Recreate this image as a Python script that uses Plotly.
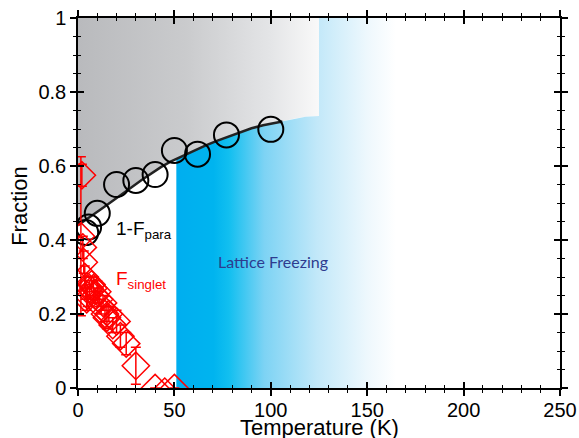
import numpy as np
import plotly.graph_objects as go

# ---------------- data ----------------
# 1 - F_para (open black circles)
para_T = [4.0, 5.5, 10.0, 20.0, 30.0, 40.0, 50.0, 62.0, 77.0, 100.0]
para_F = [0.42, 0.435, 0.472, 0.55, 0.561, 0.577, 0.642, 0.632, 0.684, 0.699]

# guide-to-the-eye curve through 1 - F_para
fit_T = [0, 3, 8, 13, 18, 23, 28, 33, 38, 43, 48, 54, 60, 66, 72, 78, 84, 90, 96, 101, 106]
fit_F = [0.44, 0.45, 0.469, 0.487, 0.505, 0.524, 0.543, 0.562, 0.58, 0.597, 0.612,
         0.627, 0.641, 0.655, 0.668, 0.68, 0.692, 0.702, 0.71, 0.715, 0.72]

# F_singlet (open red diamonds with error bars)
singlet_T = [1.5, 2.0, 2.5, 3.0, 3.5, 4.0, 4.5, 5.0, 6.0, 7.0, 8.0, 9.0, 10.0, 11.0,
             12.0, 13.0, 14.0, 15.0, 16.0, 18.0, 20.0, 22.0, 25.0, 30.0, 40.0, 45.0, 50.0]
singlet_F = [0.41, 0.575, 0.38, 0.34, 0.30, 0.27, 0.24, 0.25, 0.27, 0.28, 0.27, 0.25, 0.26,
             0.24, 0.22, 0.23, 0.20, 0.19, 0.20, 0.17, 0.18, 0.14, 0.12, 0.06, 0.0, -0.01, 0.0]
singlet_err = [0.215, 0.03, 0.03, 0.03, 0.03, 0.03, 0.03, 0.03, 0.02, 0.02, 0.03, 0.02, 0.03,
               0.02, 0.02, 0.02, 0.02, 0.03, 0.02, 0.02, 0.03, 0.03, 0.03, 0.05, 0.0, 0.0, 0.0]

# shaded regions
shelf_T = [112, 118, 125]          # edge continuing the curve up to the end of the grey band
shelf_F = [0.728, 0.733, 0.735]
GREY_END_T = 125
FREEZE_START_T = 51
FREEZE_END_T = 165

x_ticks = [0, 50, 100, 150, 200, 250]
y_ticks = [0, 0.2, 0.4, 0.6, 0.8, 1]
y_tick_text = ["0", "0.2", "0.4", "0.6", "0.8", "1"]

# ---------------- build region outlines ----------------
bx = list(fit_T) + shelf_T
by = list(fit_F) + shelf_F

grey_x = [0, GREY_END_T] + bx[::-1] + [0]
grey_y = [1, 1] + by[::-1] + [1]

f_at_start = float(np.interp(FREEZE_START_T, bx, by))
sel = [i for i, t in enumerate(bx) if t > FREEZE_START_T]
cyan_x = [FREEZE_START_T, FREEZE_START_T] + [bx[i] for i in sel] + [GREY_END_T, FREEZE_END_T, FREEZE_END_T]
cyan_y = [0, f_at_start] + [by[i] for i in sel] + [1, 1, 0]

FONT = "Liberation Sans, Arial, Helvetica, sans-serif"

fig = go.Figure()

fig.add_trace(go.Scatter(
    x=grey_x, y=grey_y, mode="lines", fill="toself", line=dict(width=0),
    fillgradient=dict(type="horizontal", start=0, stop=GREY_END_T,
                      colorscale=[[0, "#b9babd"], [0.45, "#cacbcd"], [0.8, "#e4e5e7"], [1, "#f9f9f9"]]),
    hoverinfo="skip", showlegend=False))

fig.add_trace(go.Scatter(
    x=cyan_x, y=cyan_y, mode="lines", fill="toself", line=dict(width=0),
    fillgradient=dict(type="horizontal", start=FREEZE_START_T, stop=FREEZE_END_T,
                      colorscale=[[0, "#00aeef"], [0.17, "#00b4ef"], [0.24, "#12bff0"],
                                  [0.4, "#7dd3f4"], [0.64, "#c2e8f9"], [0.87, "#eef8fd"],
                                  [1, "#ffffff"]]),
    hoverinfo="skip", showlegend=False))

fig.add_trace(go.Scatter(
    x=fit_T, y=fit_F, mode="lines", line=dict(color="#222222", width=2.5),
    hoverinfo="skip", showlegend=False))

fig.add_trace(go.Scatter(
    x=para_T, y=para_F, mode="markers",
    marker=dict(symbol="circle-open", size=25, color="black", line=dict(width=2, color="black")),
    name="1-F_para", showlegend=False))

fig.add_trace(go.Scatter(
    x=singlet_T, y=singlet_F, mode="markers",
    marker=dict(symbol="diamond-open", size=21, color="#ff0000", line=dict(width=1.5, color="#ff0000")),
    error_y=dict(type="data", array=singlet_err, color="#ff0000", thickness=1.5, width=5),
    name="F_singlet", showlegend=False))

# dummy trace so the overlay axes (inner halves of the crossing ticks) exist
fig.add_trace(go.Scatter(x=[None], y=[None], xaxis="x2", yaxis="y2",
                         hoverinfo="skip", showlegend=False))

axis_common = dict(showgrid=False, zeroline=False, tickcolor="black", tickwidth=1.5, automargin=False)

fig.update_layout(
    width=579, height=438,
    margin=dict(l=78, r=19, t=18, b=50),
    paper_bgcolor="white", plot_bgcolor="white",
    font=dict(family=FONT, color="black", size=20),
    xaxis=dict(range=[0, 250], tickvals=x_ticks, ticks="outside", ticklen=6, mirror="ticks",
               showline=True, linecolor="black", linewidth=1.5, ticklabelstandoff=-3,
               minor=dict(dtick=10, ticks="outside", ticklen=3, tickwidth=1, tickcolor="black"),
               tickfont=dict(size=20), **axis_common),
    yaxis=dict(range=[0, 1], tickvals=y_ticks, ticktext=y_tick_text, ticks="outside", ticklen=6,
               mirror="ticks", showline=True, linecolor="black", linewidth=1.5,
               minor=dict(dtick=0.05, ticks="outside", ticklen=3, tickwidth=1, tickcolor="black"),
               tickfont=dict(size=20), **axis_common),
    xaxis2=dict(range=[0, 250], overlaying="x", anchor="y2", side="bottom", tickvals=x_ticks,
                ticks="inside", ticklen=6, mirror="ticks", showline=False, showticklabels=False,
                minor=dict(dtick=10, ticks="inside", ticklen=3, tickwidth=1, tickcolor="black"),
                **axis_common),
    yaxis2=dict(range=[0, 1], overlaying="y", anchor="x2", side="left", tickvals=y_ticks,
                ticks="inside", ticklen=6, mirror="ticks", showline=False, showticklabels=False,
                minor=dict(dtick=0.05, ticks="inside", ticklen=3, tickwidth=1, tickcolor="black"),
                **axis_common),
    annotations=[
        dict(x=0.5, y=-0.108, xref="paper", yref="paper", xanchor="center", yanchor="middle",
             text="Temperature (K)", showarrow=False, font=dict(size=22, color="black")),
        dict(x=-0.12, y=0.49, xref="paper", yref="paper", xanchor="center", yanchor="middle",
             text="Fraction", textangle=-90, showarrow=False, font=dict(size=22, color="black")),
        dict(x=18.5, y=0.426, xref="x", yref="y", xanchor="left", yanchor="middle",
             text="1-F<sub>para</sub>", showarrow=False, font=dict(size=19, color="black")),
        dict(x=18.5, y=0.293, xref="x", yref="y", xanchor="left", yanchor="middle",
             text="F<sub>singlet</sub>", showarrow=False, font=dict(size=19, color="#ff0000")),
        dict(x=101, y=0.342, xref="x", yref="y", xanchor="center", yanchor="middle",
             text="Lattice Freezing", showarrow=False,
             font=dict(family="Lato, Open Sans, sans-serif", size=16, color="#2e3c8f")),
    ],
)

fig.write_html("out.html")
